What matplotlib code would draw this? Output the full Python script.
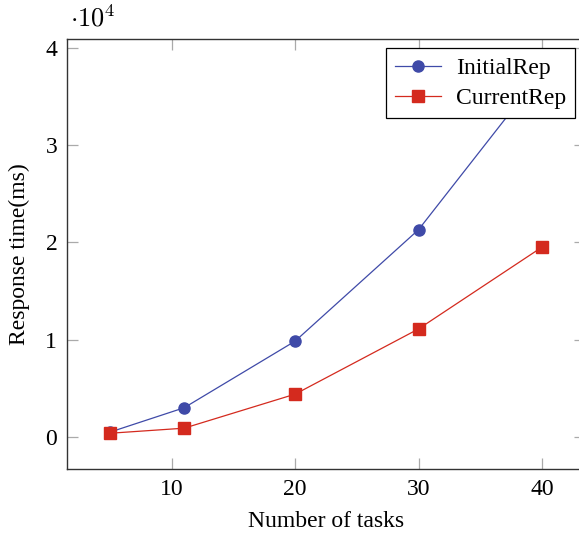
import matplotlib
matplotlib.use("Agg")
import matplotlib.pyplot as plt

# task counts and measured response times (ms)
tasks = [5, 11, 20, 30, 40]
initial_rep = [500, 3000, 9850, 21300, 37500]
current_rep = [380, 900, 4400, 11100, 19500]

x_ticks = [10, 20, 30, 40]
y_ticks = [0, 10000, 20000, 30000, 40000]
y_tick_labels = ["0", "1", "2", "3", "4"]

plt.rcParams['font.family'] = 'serif'
plt.rcParams['font.serif'] = ['Liberation Serif', 'DejaVu Serif']
plt.rcParams['mathtext.fontset'] = 'cm'

fig = plt.figure(figsize=(5.79, 5.33), dpi=100)
ax = fig.add_axes([0.1157, 0.120, 0.8947, 0.8068])

blue = '#3f4aa8'
red = '#d42a1e'
ax.plot(tasks, initial_rep, color=blue, marker='o', markersize=8,
        linewidth=0.9, label='InitialRep')
ax.plot(tasks, current_rep, color=red, marker='s', markersize=8,
        linewidth=0.9, label='CurrentRep')

ax.set_xlim(1.5, 43.5)
ax.set_ylim(-3300, 40900)
ax.set_xticks(x_ticks)
ax.set_xticklabels([str(t) for t in x_ticks])
ax.set_yticks(y_ticks)
ax.set_yticklabels(y_tick_labels)

for s in ax.spines.values():
    s.set_color('#333333')
    s.set_linewidth(1.0)
ax.tick_params(direction='in', length=8, width=0.9, color='#aaaaaa',
               top=True, right=True, labelsize=17, pad=7)

ax.set_xlabel('Number of tasks', fontsize=17, labelpad=8)
ax.set_ylabel('Response time(ms)', fontsize=17, labelpad=11)

# common exponent for the y axis
ax.text(0.05, 1.028, r'$\cdot 10^4$', transform=ax.transAxes,
        fontsize=19, ha='center', va='baseline')

leg = ax.legend(loc='upper right', bbox_to_anchor=(0.981, 0.979),
                borderaxespad=0, fontsize=17, frameon=True, fancybox=False,
                edgecolor='black', framealpha=1, borderpad=0.4,
                handlelength=1.95, labelspacing=0.35, handletextpad=0.6)
leg.get_frame().set_linewidth(0.9)

fig.savefig('out.png', dpi=100)
